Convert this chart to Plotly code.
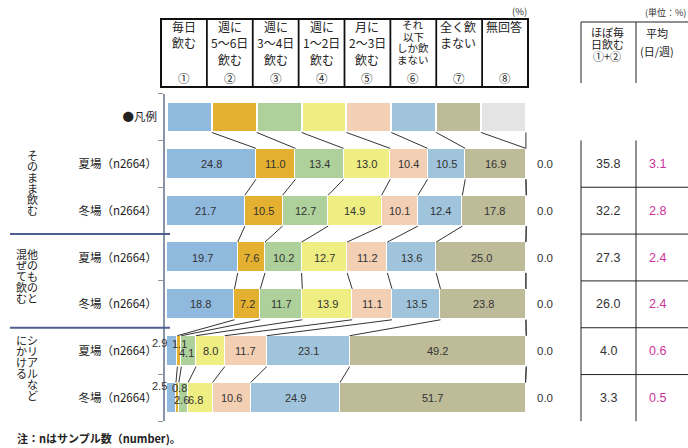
import plotly.graph_objects as go
import numpy as np

# ---------------- data ----------------
row_labels = ["●凡例", "夏場（n2664）", "冬場（n2664）", "夏場（n2664）", "冬場（n2664）", "夏場（n2664）", "冬場（n2664）"]
group_labels = [["そのまま飲む"], ["他のものと", "混ぜて飲む"], ["シリアルなど", "にかける"]]

cat_headers = [["毎日", "飲む"], ["週に", "5～6日", "飲む"], ["週に", "3～4日", "飲む"], ["週に", "1～2日", "飲む"],
               ["月に", "2～3日", "飲む"], ["それ", "以下", "しか飲", "まない"], ["全く飲", "まない"], ["無回答"]]
cat_numbers = ["①", "②", "③", "④", "⑤", "⑥", "⑦", "⑧"]

s1_daily = [24.8, 21.7, 19.7, 18.8, 2.9, 2.5]
s2_5_6 = [11.0, 10.5, 7.6, 7.2, 1.1, 0.8]
s3_3_4 = [13.4, 12.7, 10.2, 11.7, 4.1, 2.6]
s4_1_2 = [13.0, 14.9, 12.7, 13.9, 8.0, 6.8]
s5_month = [10.4, 10.1, 11.2, 11.1, 11.7, 10.6]
s6_less = [10.5, 12.4, 13.6, 13.5, 23.1, 24.9]
s7_never = [16.9, 17.8, 25.0, 23.8, 49.2, 51.7]
s8_noans = [0.0, 0.0, 0.0, 0.0, 0.0, 0.0]

almost_daily = [35.8, 32.2, 27.3, 26.0, 4.0, 3.3]
avg_days = [3.1, 2.8, 2.4, 2.4, 0.6, 0.5]

series = [s1_daily, s2_5_6, s3_3_4, s4_1_2, s5_month, s6_less, s7_never, s8_noans]
colors = ["#90b9de", "#e3b12f", "#aed19b", "#eeee82", "#f3cfb3", "#a0c4dc", "#bebb98", "#e4e4e4"]
LEGEND_SHARE = 100 / len(series)

# ---------------- helpers ----------------
W, H = 688, 448
def px(x): return x / W
def py(y): return 1 - y / H

JP = "Noto Sans CJK JP"
NUM = "Liberation Sans, Noto Sans CJK JP"
BAR_W = 0.66
n_rows = len(row_labels)
ypos = list(range(n_rows))

def note(x, y, text, xref="paper", yref="paper", xanchor="center", yanchor="middle", size=11,
         color="#222", family=JP, **kw):
    return dict(x=x, y=y, xref=xref, yref=yref, text=text, showarrow=False, xanchor=xanchor,
                yanchor=yanchor, font=dict(family=family, size=size, color=color), **kw)

fig = go.Figure()
for k, (vals, col) in enumerate(zip(series, colors)):
    fig.add_trace(go.Bar(
        y=ypos, x=[LEGEND_SHARE] + vals, orientation="h", width=BAR_W,
        marker=dict(color=col, line=dict(color="white", width=[2.5] + [1.2] * len(vals))),
        hoverinfo="skip", showlegend=False, textposition="none"))

# cumulative boundaries per row (legend row first)
rows_mat = np.array(series).T  # 6 x 8
cums = [np.cumsum([LEGEND_SHARE] * len(series))] + [np.cumsum(r) for r in rows_mat]

lx, ly = [], []
for i in range(n_rows - 1):
    for k in range(len(series)):
        lx += [cums[i][k], cums[i + 1][k], None]
        ly += [i + BAR_W / 2, i + 1 - BAR_W / 2, None]
fig.add_trace(go.Scatter(x=lx, y=ly, mode="lines", line=dict(color="#333", width=1),
                         hoverinfo="skip", showlegend=False))

annotations = []
# segment labels
nudge = {(5, 0): (-13, 8), (5, 1): (0, 7), (5, 2): (-2, -2),
         (6, 0): (-12, 12), (6, 1): (2, 10), (6, 2): (-2, -2), (6, 3): (-5, -2)}
for r, vals in enumerate(rows_mat):
    row = r + 1
    start = 0.0
    for k, v in enumerate(vals[:-1]):
        dx, dy = nudge.get((row, k), (0, 0))
        annotations.append(note(start + v / 2, row, f"{v:.1f}", xref="x", yref="y", size=11,
                                color="#333", family=NUM, xshift=dx, yshift=dy))
        start += v
    annotations.append(note(px(535), row, f"{vals[-1]:.1f}", yref="y", xanchor="left", size=11.5,
                            color="#333", family=NUM))
    annotations.append(note(px(608), row, f"{almost_daily[r]:.1f}", yref="y", size=12.5,
                            color="#333", family=NUM))
    annotations.append(note(px(657), row, f"{avg_days[r]:.1f}", yref="y", size=12.5,
                            color="#cc3399", family=NUM))

# vertical group labels
group_cols = [[(32, 155)], [(32, 254), (21, 254)], [(32, 340), (21, 340)]]
for texts, places in zip(group_labels, group_cols):
    for t, (cx, y0) in zip(texts, places):
        for j, ch in enumerate(t):
            annotations.append(note(px(cx), py(y0 + 11 * j), ch, size=11, borderpad=0))

# header box text
hx0, hx1, hy0, hy1 = 161, 528, 19, 87
cw = (hx1 - hx0) / 8
line_y = {1: [27], 2: [27, 42], 3: [27, 42, 59], 4: [24, 36, 48, 60]}
for j, lines in enumerate(cat_headers):
    cx = hx0 + cw * (j + 0.5)
    ys = line_y[len(lines)]
    left = j >= 6
    fs = 10.5 if len(lines) == 4 else 12
    for t, yy in zip(lines, ys):
        annotations.append(note(px(hx0 + cw * j + 3) if left else px(cx), py(yy), t,
                                xanchor="left" if left else "center", size=fs, borderpad=0))
    annotations.append(note(px(cx), py(78), cat_numbers[j], size=11.5))
annotations.append(note(px(529), py(11), "(%)", xanchor="right", size=9.5, color="#333"))
# right table headers
for t, yy in zip(["ほぼ毎", "日飲む", "①+②"], [32, 44, 56]):
    annotations.append(note(px(607), py(yy), t, size=11, borderpad=0))
for t, yy in zip(["平均", "(日/週)"], [33, 51]):
    annotations.append(note(px(657), py(yy), t, size=11))
annotations.append(note(px(688), py(13), "(単位：%)", xanchor="right", size=9, color="#333"))
annotations.append(note(px(15), py(438), "<b>注：nはサンプル数（number)。</b>", xanchor="left", size=11))

shapes = []
# header box
shapes.append(dict(type="rect", xref="paper", yref="paper", x0=px(hx0), x1=px(hx1), y0=py(hy1), y1=py(hy0),
                   line=dict(color="#111", width=2)))
for j in range(1, 8):
    shapes.append(dict(type="line", xref="paper", yref="paper", x0=px(hx0 + cw * j), x1=px(hx0 + cw * j),
                       y0=py(hy1), y1=py(hy0), line=dict(color="#111", width=1.8)))
# right header
shapes.append(dict(type="line", xref="paper", yref="paper", x0=px(581), x1=px(688), y0=py(22), y1=py(22),
                   line=dict(color="#222", width=1)))
for xx in [581, 636]:
    shapes.append(dict(type="line", xref="paper", yref="paper", x0=px(xx), x1=px(xx), y0=py(22), y1=py(83),
                       line=dict(color="#222", width=1)))
    shapes.append(dict(type="line", xref="paper", yref="y", x0=px(xx), x1=px(xx), y0=0.5, y1=n_rows - 0.5,
                       line=dict(color="#222", width=1)))
for i in range(1, n_rows - 1):
    shapes.append(dict(type="line", xref="paper", yref="y", x0=px(581), x1=px(688), y0=i + 0.5, y1=i + 0.5,
                       line=dict(color="#222", width=1)))
# group separators
for b in [2.5, 4.5]:
    shapes.append(dict(type="line", xref="paper", yref="y", x0=px(10), x1=px(170), y0=b, y1=b,
                       line=dict(color="#4f5f8f", width=2)))

fig.update_layout(
    width=W, height=H, margin=dict(l=0, r=0, t=0, b=0),
    paper_bgcolor="white", plot_bgcolor="white", barmode="stack", bargap=0,
    showlegend=False, annotations=annotations, shapes=shapes,
    xaxis=dict(domain=[px(165), px(527)], range=[-0.55, 100.3], showgrid=False, zeroline=False,
               showticklabels=False, showline=False, fixedrange=True),
    yaxis=dict(domain=[py(421.4), py(93.6)], range=[n_rows - 0.5, -0.5], tickvals=ypos, ticktext=row_labels,
               ticks="", showgrid=False, zeroline=False, showline=True, linecolor="#8a94a6", linewidth=1.5,
               ticklabelstandoff=4, automargin=False,
               tickfont=dict(family=JP, size=11.5, color="#222"),
               minor=dict(tickvals=[i - 0.5 for i in range(n_rows + 1)], ticks="outside", ticklen=5,
                          tickcolor="#999", showgrid=False)),
)
fig.write_html("out.html")
